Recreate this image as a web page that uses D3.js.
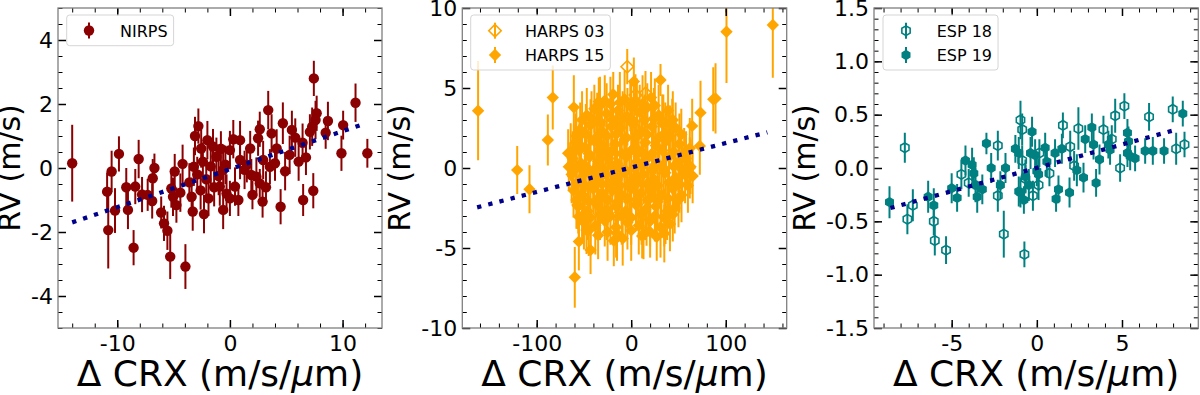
<!DOCTYPE html>
<html>
<head>
<meta charset="utf-8">
<script src="https://cdn.jsdelivr.net/npm/d3@7"></script>
<style>
  body { margin: 0; background: #fff; }
  svg { font-family: "DejaVu Sans", sans-serif; }
</style>
</head>
<body>
<div id="chart"></div>
<script>
// each point: [delta CRX, RV, RV error]

// ---- NIRPS ----
const nirpsData = [
  [-14.0, 0.15, 1.2], [-10.9, -0.74, 0.6], [-10.8, -1.94, 1.2], [-10.5, -0.11, 0.65],
  [-10.2, -1.33, 0.7], [-9.85, 0.44, 0.55], [-9.2, -0.6, 0.6], [-9.05, -1.31, 0.6],
  [-8.55, -2.49, 0.55], [-8.4, -0.58, 0.55], [-8.1, 0.28, 0.6], [-7.8, -0.83, 0.55],
  [-7.3, -0.84, 0.5], [-6.9, -1.03, 0.55], [-6.85, -0.32, 0.6], [-6.7, 0.0, 0.45],
  [-6.1, -1.39, 0.5], [-5.85, -1.73, 0.55], [-5.55, -1.96, 0.6], [-5.3, -2.77, 0.7],
  [-5.2, -0.64, 0.6], [-4.9, -0.11, 0.55], [-5.05, -0.9, 0.6], [-4.75, -1.16, 0.55],
  [-4.4, -0.77, 0.6], [-4.2, 0.13, 0.6], [-3.95, -3.08, 0.7], [-3.3, -1.36, 0.6],
  [-3.2, 0.04, 0.6], [-3.1, 1.0, 0.6], [-2.8, 1.31, 0.55], [-2.55, 0.61, 0.6],
  [-2.3, -1.44, 0.6], [-2.0, 0.87, 0.6], [-1.5, 0.67, 0.55], [-0.6, -1.31, 0.6],
  [-3.6, -0.45, 0.6], [-3.4, -0.9, 0.6], [-2.9, -0.2, 0.55], [-2.6, -0.7, 0.6],
  [-2.4, 0.2, 0.6], [-2.1, -0.35, 0.6], [-1.9, -0.95, 0.55], [-1.7, 0.05, 0.6],
  [-1.4, -0.6, 0.6], [-1.2, 0.35, 0.6], [-1.0, -0.25, 0.6], [-0.8, 0.6, 0.55],
  [-0.4, 0.1, 0.6], [-0.3, -0.8, 0.6],
  [7.45, 2.8, 0.55], [11.15, 2.04, 0.6], [3.4, 1.81, 0.6], [8.7, 1.47, 0.6],
  [10.05, 1.34, 0.45], [7.7, 1.71, 0.55], [7.6, 1.5, 0.6], [7.3, 1.29, 0.6],
  [7.1, 1.13, 0.55], [4.7, 1.4, 0.65], [5.5, 1.19, 0.6], [2.65, 1.21, 0.55],
  [3.7, 1.08, 0.6], [2.5, 0.93, 0.55], [0.3, 0.9, 0.6], [0.9, 0.87, 0.6],
  [6.45, 0.79, 0.6], [6.75, 0.33, 0.55], [8.5, 1.1, 0.5], [9.9, 0.46, 0.55],
  [12.2, 0.46, 0.45], [6.5, -1.0, 0.5], [7.4, -0.71, 0.55], [4.5, -1.21, 0.55],
  [2.9, -1.05, 0.5], [2.0, -0.84, 0.45], [2.65, -0.48, 0.45], [1.9, -0.22, 0.5],
  [0.75, -1.0, 0.5], [0.0, -0.95, 0.55], [5.3, 0.41, 0.6], [4.15, 0.61, 0.6],
  [1.8, 0.61, 0.55], [0.0, 0.56, 0.6], [3.55, 0.04, 0.55], [4.0, 0.15, 0.55],
  [0.9, 0.25, 0.6], [-0.6, -0.06, 0.6], [1.3, -0.06, 0.6], [2.95, 0.25, 0.6],
  [2.35, -0.27, 0.6], [-0.9, -0.58, 0.6], [0.45, -0.58, 0.6], [5.8, 0.95, 0.6],
  [6.1, 0.2, 0.6], [4.9, -0.1, 0.6], [1.5, 0.1, 0.55], [3.2, -0.6, 0.5]
];
const nirpsFitX = [-14.0, 12.1];
const nirpsFitY = [-1.70, 1.40];
const nirpsXTicks = [-10, 0, 10];
const nirpsYTicks = [-4, -2, 0, 2, 4];

// ---- HARPS ----
const harps03Data = [
  [-4.2, 6.33, 1.1], [15.1, 4.67, 1.4], [4.5, 4.56, 1.3], [16.2, -3.46, 1.4],
  [-25, 1.0, 1.6], [10, -2.0, 1.7], [30, 0.0, 1.8], [-15, -3.0, 1.6]
];
const harps15Data = [
  [-162, 3.58, 3.1], [-120.6, -0.13, 1.5], [-107.6, -1.33, 1.5], [-88.2, 1.75, 1.6],
  [-83, 4.4, 2.0], [-60.7, 3.79, 2.0], [-66.7, 0.92, 1.5], [-60.7, 1.13, 1.6],
  [-66, 0.08, 1.5], [-57, -2.31, 1.5], [-55.4, -3.04, 1.6], [-47.3, -3.88, 1.5],
  [-55.4, -4.6, 1.8], [-43, -5.13, 1.5], [-59.7, -6.83, 1.9], [-18.4, -4.54, 1.6],
  [-34.3, 4.15, 1.5], [-36, 2.9, 1.8], [100.8, 8.52, 3.2], [149.8, 8.94, 3.3],
  [89.2, 4.35, 2.2], [86.8, 4.29, 2.0], [73.3, 3.46, 2.0], [64.5, 2.63, 1.7],
  [72.6, 1.38, 1.8], [62.0, 1.23, 1.9], [62.8, 0.08, 1.7], [53.2, -1.69, 1.7],
  [31.0, 5.5, 1.0], [2.8, 5.4, 1.5], [43.4, 2.63, 1.7], [32.8, 2.79, 1.8],
  [36.3, -3.15, 1.6], [11.6, -4.25, 1.4],
  [-28, 4.2, 1.6], [-19, 4.6, 1.4], [-7, 4.3, 1.8], [6, 4.1, 1.5], [21, 4.4, 1.6],
  [-47, 3.3, 1.7], [-39, 3.7, 1.5], [-26, 3.4, 1.9], [-14, 3.6, 1.6], [-4, 3.2, 1.8],
  [9, 3.5, 1.7], [17, 3.8, 1.5], [29, 3.3, 1.9], [39, 3.6, 1.6],
  [-54, 2.4, 1.7], [-43, 2.7, 1.6], [-31, 2.3, 1.8], [-21, 2.6, 1.9], [-11, 2.5, 1.7],
  [1, 2.8, 1.6], [11, 2.3, 1.8], [22, 2.6, 1.7], [36, 2.2, 1.9], [47, 2.5, 1.6],
  [-59, 1.6, 1.8], [-49, 1.3, 1.7], [-39, 1.7, 1.9], [-29, 1.4, 1.6], [-17, 1.5, 1.8],
  [-7, 1.8, 1.7], [4, 1.3, 1.9], [15, 1.6, 1.6], [26, 1.4, 1.8], [37, 1.7, 1.7], [51, 1.5, 1.9],
  [-62, 0.6, 1.7], [-53, 0.3, 1.8], [-44, 0.7, 1.6], [-35, 0.4, 1.9], [-24, 0.6, 1.7],
  [-15, 0.3, 1.8], [-5, 0.7, 1.6], [6, 0.4, 1.9], [17, 0.6, 1.7], [28, 0.3, 1.8],
  [40, 0.7, 1.6], [50, 0.4, 1.9], [58, 0.6, 1.7],
  [-63, -0.4, 1.8], [-54, -0.7, 1.7], [-45, -0.3, 1.9], [-36, -0.6, 1.6], [-27, -0.4, 1.8],
  [-17, -0.7, 1.7], [-7, -0.3, 1.9], [3, -0.6, 1.6], [13, -0.4, 1.8], [24, -0.7, 1.7],
  [36, -0.3, 1.9], [47, -0.6, 1.6], [57, -0.4, 1.8], [65, -0.5, 1.7],
  [-61, -1.4, 1.7], [-51, -1.7, 1.8], [-40, -1.3, 1.6], [-30, -1.6, 1.9], [-20, -1.4, 1.7],
  [-10, -1.7, 1.8], [0, -1.3, 1.6], [10, -1.6, 1.9], [20, -1.4, 1.7], [32, -1.7, 1.8], [44, -1.3, 1.6],
  [-56, -2.4, 1.7], [-46, -2.7, 1.8], [-36, -2.3, 1.6], [-26, -2.6, 1.9], [-16, -2.4, 1.7],
  [-6, -2.7, 1.8], [5, -2.3, 1.6], [15, -2.6, 1.9], [26, -2.4, 1.7], [38, -2.7, 1.8], [46, -2.5, 1.6],
  [-50, -3.4, 1.7], [-38, -3.6, 1.8], [-28, -3.3, 1.6], [-16, -3.7, 1.9], [-4, -3.4, 1.7],
  [8, -3.6, 1.8], [20, -3.3, 1.6], [31, -3.7, 1.9], [41, -3.5, 1.7],
  [-35, -4.2, 1.5], [-9, -4.4, 1.7], [13, -4.1, 1.6], [27, -4.3, 1.5],
  [-12, 0.0, 1.8], [-2, -1.0, 1.9], [8, 1.0, 1.8], [-22, -1.0, 1.7],
  [18, -2.0, 1.8], [-32, 1.0, 1.7], [0, 3.8, 1.7], [-10, -3.0, 1.8],
  [-33, 3.9, 1.8], [-22, 4.0, 1.7], [-12, 4.1, 1.9], [-1, 3.9, 1.6], [12, 4.0, 1.8], [25, 3.9, 1.7],
  [-52, 3.0, 1.8], [-42, 3.1, 1.7], [-33, 2.9, 1.6], [-20, 3.0, 1.9], [-9, 3.1, 1.7],
  [3, 2.9, 1.8], [14, 3.0, 1.6], [24, 3.1, 1.9], [34, 2.9, 1.7], [44, 3.0, 1.8],
  [-58, 2.0, 1.7], [-48, 2.1, 1.9], [-37, 1.9, 1.6], [-26, 2.0, 1.8], [-16, 2.1, 1.7],
  [-5, 1.9, 1.9], [6, 2.0, 1.6], [17, 2.1, 1.8], [29, 1.9, 1.7], [41, 2.0, 1.9], [53, 2.1, 1.6],
  [-64, 1.0, 1.8], [-55, 1.1, 1.7], [-45, 0.9, 1.9], [-34, 1.1, 1.6], [-21, 1.0, 1.8],
  [-10, 0.9, 1.7], [0, 1.1, 1.9], [11, 1.0, 1.6], [22, 0.9, 1.8], [33, 1.1, 1.7], [45, 1.0, 1.9], [56, 0.9, 1.6],
  [-58, 0.0, 1.9], [-48, 0.1, 1.6], [-39, -0.1, 1.8], [-30, 0.0, 1.7], [-20, 0.1, 1.9],
  [-7, -0.1, 1.6], [3, 0.0, 1.8], [12, 0.1, 1.7], [22, -0.1, 1.9], [34, 0.0, 1.6],
  [45, 0.1, 1.8], [54, -0.1, 1.7], [62, 0.0, 1.9],
  [-58, -1.0, 1.6], [-49, -1.1, 1.8], [-40, -0.9, 1.7], [-31, -1.0, 1.9], [-12, -1.1, 1.6],
  [7, -0.9, 1.8], [17, -1.0, 1.7], [28, -1.1, 1.9], [40, -0.9, 1.6], [51, -1.0, 1.8], [60, -1.1, 1.7],
  [-58, -2.0, 1.8], [-45, -2.1, 1.7], [-35, -1.9, 1.9], [-25, -2.0, 1.6], [-14, -2.1, 1.8],
  [-4, -1.9, 1.7], [6, -2.0, 1.9], [28, -2.1, 1.6], [39, -1.9, 1.8], [50, -2.0, 1.7],
  [-52, -3.0, 1.7], [-43, -3.1, 1.9], [-33, -2.9, 1.6], [-22, -3.0, 1.8], [0, -3.1, 1.7],
  [11, -2.9, 1.9], [25, -3.0, 1.6], [35, -3.1, 1.8], [44, -2.9, 1.7],
  [-45, -3.9, 1.6], [-25, -4.0, 1.8], [-15, -4.1, 1.7], [0, -3.9, 1.9], [20, -4.0, 1.6], [35, -4.1, 1.8]
];
const harpsFitX = [-163, 144];
const harpsFitY = [-2.46, 2.23];
const harpsXTicks = [-100, 0, 100];
const harpsYTicks = [-10, -5, 0, 5, 10];

// ---- ESPRESSO ----
const esp18Data = [
  [-7.75, 0.19, 0.14], [-7.6, -0.48, 0.14], [-7.28, -0.35, 0.15], [-6.05, -0.5, 0.13],
  [-5.99, -0.68, 0.14], [-5.33, -0.77, 0.13], [-4.43, -0.06, 0.14], [-4.0, -0.14, 0.13],
  [-2.29, 0.21, 0.14], [-2.29, -0.26, 0.15], [-1.94, -0.62, 0.22], [-0.96, 0.45, 0.18],
  [-0.86, 0.36, 0.15], [-0.86, 0.07, 0.14], [-0.73, -0.81, 0.12], [-0.23, -0.26, 0.14],
  [-0.67, -0.1, 0.13], [1.53, 0.4, 0.12], [2.44, 0.37, 0.2], [3.91, 0.36, 0.13],
  [4.6, 0.49, 0.16], [5.14, 0.58, 0.12], [6.59, 0.48, 0.13], [7.98, 0.55, 0.12],
  [8.18, 0.18, 0.15], [8.67, 0.22, 0.12], [4.89, 0.0, 0.13], [1.96, 0.2, 0.15],
  [2.19, 0.02, 0.14], [4.4, 0.27, 0.13], [0.1, -0.16, 0.14], [0.15, 0.14, 0.13],
  [0.74, -0.05, 0.12]
];
const esp19Data = [
  [-8.65, -0.32, 0.15], [-6.38, -0.27, 0.15], [-6.05, -0.35, 0.16], [-5.0, -0.19, 0.14],
  [-4.68, -0.28, 0.13], [-4.19, 0.07, 0.14], [-3.8, 0.03, 0.16], [-3.7, -0.05, 0.15],
  [-3.6, -0.16, 0.16], [-3.5, -0.27, 0.15], [-3.2, -0.2, 0.14], [-2.96, 0.23, 0.1],
  [-2.68, 0.0, 0.14], [-2.14, -0.16, 0.13], [-1.84, 0.0, 0.14], [-1.26, 0.18, 0.13],
  [-1.06, 0.14, 0.15], [-1.06, -0.22, 0.14], [-0.76, -0.3, 0.13], [-0.28, 0.34, 0.14],
  [-0.37, 0.14, 0.15], [-0.67, -0.08, 0.16], [-0.47, -0.16, 0.15], [-0.96, -0.23, 0.14],
  [-0.1, 0.12, 0.15], [0.0, -0.03, 0.14], [0.49, 0.19, 0.14], [0.59, 0.06, 0.15],
  [1.07, 0.14, 0.13], [1.47, 0.18, 0.14], [1.27, -0.2, 0.13], [1.13, -0.29, 0.12],
  [1.92, -0.23, 0.14], [2.35, -0.02, 0.15], [2.74, -0.09, 0.14], [2.84, 0.27, 0.13],
  [3.23, 0.38, 0.13], [3.33, 0.22, 0.14], [3.48, -0.14, 0.13], [3.68, 0.08, 0.14],
  [4.2, 0.22, 0.13], [4.3, 0.17, 0.14], [5.32, 0.33, 0.13], [5.38, 0.25, 0.14],
  [5.32, 0.14, 0.13], [5.48, 0.11, 0.13], [5.77, 0.09, 0.12], [6.36, 0.16, 0.12],
  [6.81, 0.16, 0.13], [7.47, 0.16, 0.12], [8.57, 0.51, 0.12], [0.1, -0.06, 0.15]
];
const espFitX = [-8.6, 8.2];
const espFitY = [-0.375, 0.36];
const espXTicks = [-5, 0, 5];
const espYTicks = [-1.5, -1.0, -0.5, 0.0, 0.5, 1.0, 1.5];

const fitColor = "#00008b";

const svg = d3.select("#chart")
  .append("svg")
    .attr("width", 1200)
    .attr("height", 395);

// marker shapes as path strings centred on 0,0
function markerPath(shape, s) {
  if (shape == "diamond") {
    return `M0,${-s}L${s},0L0,${s}L${-s},0Z`;
  }
  if (shape == "hexagon") {
    let pts = d3.range(6).map(k => {
      let a = (-90 + 60 * k) * Math.PI / 180;
      return [s * Math.cos(a), s * Math.sin(a)];
    });
    return "M" + pts.map(p => p.join(",")).join("L") + "Z";
  }
  let p = d3.path();
  p.arc(0, 0, s, 0, 2 * Math.PI);
  return p.toString();
}

let fmtInt = d => String(d);
let fmtOne = d => d3.format(".1f")(d).replace("\u2212", "-");

class ScatterPanel {

  constructor(_config) {
    this.config = _config;
    this.initVis();
  }

  initVis() {
    let vis = this;
    let c = vis.config;

    vis.width = c.right - c.left;
    vis.height = c.bottom - c.top;

    vis.g = svg.append("g")
      .attr("transform", "translate(" + c.left + "," + c.top + ")");

    vis.xScale = d3.scaleLinear().domain(c.xDomain).range([0, vis.width]);
    vis.yScale = d3.scaleLinear().domain(c.yDomain).range([vis.height, 0]);

    vis.clipId = "clip-" + c.id;
    vis.g.append("clipPath").attr("id", vis.clipId)
      .append("rect")
        .attr("width", vis.width)
        .attr("height", vis.height);

    vis.renderVis();
  }

  minorTicks(domain, step) {
    let start = Math.ceil(domain[0] / step - 1e-9);
    let end = Math.floor(domain[1] / step + 1e-9);
    return d3.range(start, end + 1).map(k => +(k * step).toFixed(6));
  }

  drawAxis(axisFn, tx, ty, ticks, size, width, fmt, pad) {
    let vis = this;
    let scale = (axisFn == d3.axisBottom || axisFn == d3.axisTop) ? vis.xScale : vis.yScale;
    let axis = axisFn(scale)
      .tickValues(ticks)
      .tickSizeInner(-size)
      .tickSizeOuter(0)
      .tickPadding(pad || 0)
      .tickFormat(fmt || "");
    let g = vis.g.append("g")
      .attr("transform", "translate(" + tx + "," + ty + ")")
      .call(axis);
    g.select(".domain").remove();
    g.attr("font-size", 22).attr("font-family", "DejaVu Sans, sans-serif").attr("color", "#000");
    g.selectAll("line").attr("stroke-width", width);
    return g;
  }

  renderVis() {
    let vis = this;
    let c = vis.config;

    // data: error bars first, then markers
    let plot = vis.g.append("g").attr("clip-path", "url(#" + vis.clipId + ")");
    c.series.forEach(s => {
      let sg = plot.append("g");
      sg.selectAll("line")
        .data(s.data)
        .join("line")
          .attr("x1", d => vis.xScale(d[0]))
          .attr("x2", d => vis.xScale(d[0]))
          .attr("y1", d => vis.yScale(d[1] - d[2]))
          .attr("y2", d => vis.yScale(d[1] + d[2]))
          .attr("stroke", s.color)
          .attr("stroke-width", 2);
      sg.selectAll("path")
        .data(s.data)
        .join("path")
          .attr("transform", d => "translate(" + vis.xScale(d[0]) + "," + vis.yScale(d[1]) + ")")
          .attr("d", markerPath(s.shape, s.size))
          .attr("fill", s.filled ? s.color : "none")
          .attr("stroke", s.color)
          .attr("stroke-width", s.filled ? 0 : 1.6);
    });

    // linear fit, dotted
    let line = d3.line().x(d => vis.xScale(d[0])).y(d => vis.yScale(d[1]));
    plot.append("path")
      .datum(c.fitX.map((x, i) => [x, c.fitY[i]]))
      .attr("d", line)
      .attr("fill", "none")
      .attr("stroke", fitColor)
      .attr("stroke-width", 4.3)
      .attr("stroke-dasharray", "4.3,7.2");

    // ticks on all four sides, pointing in
    let xMinor = vis.minorTicks(c.xDomain, c.xMinor);
    let yMinor = vis.minorTicks(c.yDomain, c.yMinor);
    vis.drawAxis(d3.axisBottom, 0, vis.height, xMinor, 4.5, 1);
    vis.drawAxis(d3.axisTop, 0, 0, xMinor, 4.5, 1);
    vis.drawAxis(d3.axisLeft, 0, 0, yMinor, 4.5, 1);
    vis.drawAxis(d3.axisRight, vis.width, 0, yMinor, 4.5, 1);
    vis.xAxisG = vis.drawAxis(d3.axisBottom, 0, vis.height, c.xTicks, 8, 1.5, c.xFmt, 7);
    vis.drawAxis(d3.axisTop, 0, 0, c.xTicks, 8, 1.5);
    vis.yAxisG = vis.drawAxis(d3.axisLeft, 0, 0, c.yTicks, 8, 1.5, c.yFmt, 5);
    vis.drawAxis(d3.axisRight, vis.width, 0, c.yTicks, 8, 1.5);

    vis.g.append("rect")
      .attr("width", vis.width)
      .attr("height", vis.height)
      .attr("fill", "none")
      .attr("stroke", "#7f7f7f")
      .attr("stroke-width", 1.3);

    // labels
    vis.g.append("text")
      .attr("x", vis.width / 2)
      .attr("y", 386 - c.top)
      .attr("text-anchor", "middle")
      .attr("font-size", 36)
      .attr("fill", "#000")
      .call(t => {
        t.append("tspan").text("\u0394 CRX (m/s/");
        t.append("tspan").attr("font-style", "italic").text("\u03bc");
        t.append("tspan").text("m)");
      });

    let box = vis.yAxisG.node().getBBox();
    vis.g.append("text")
      .attr("transform", "translate(" + (box.x - 11) + "," + (vis.height / 2) + ") rotate(-90)")
      .attr("text-anchor", "middle")
      .attr("font-size", 30)
      .attr("fill", "#000")
      .text("RV (m/s)");

    // legend
    let L = c.legend;
    let lg = vis.g.append("g");
    let boxRect = lg.append("rect")
      .attr("x", L.x)
      .attr("y", L.y)
      .attr("height", L.h)
      .attr("rx", 3)
      .attr("fill", "#fff")
      .attr("fill-opacity", 0.8)
      .attr("stroke", "#d5d5d5")
      .attr("stroke-width", 1);
    let maxW = 0;
    c.series.forEach((s, i) => {
      let y = L.rowY[i];
      lg.append("line")
        .attr("x1", L.markerX).attr("x2", L.markerX)
        .attr("y1", y - 8).attr("y2", y + 8)
        .attr("stroke", s.color)
        .attr("stroke-width", 2);
      lg.append("path")
        .attr("transform", "translate(" + L.markerX + "," + y + ")")
        .attr("d", markerPath(s.shape, s.size))
        .attr("fill", s.filled ? s.color : "none")
        .attr("stroke", s.color)
        .attr("stroke-width", s.filled ? 0 : 1.6);
      let t = lg.append("text")
        .attr("x", L.textX)
        .attr("y", y + 6)
        .attr("font-size", 16)
        .attr("fill", "#000")
        .text(s.label);
      maxW = Math.max(maxW, t.node().getComputedTextLength());
    });
    boxRect.attr("width", L.textX + maxW + 6 - L.x);
  }
}

new ScatterPanel({
  id: "nirps", left: 58, right: 382, top: 8, bottom: 328,
  xDomain: [-15.26, 13.5], yDomain: [-5, 5],
  xTicks: nirpsXTicks, yTicks: nirpsYTicks, xMinor: 2, yMinor: 0.5,
  xFmt: fmtInt, yFmt: fmtInt,
  fitX: nirpsFitX, fitY: nirpsFitY,
  series: [
    {label: "NIRPS", data: nirpsData, color: "#8b0000", shape: "circle", size: 5.2, filled: true}
  ],
  legend: {x: 8.7, y: 7, h: 30.7, rowY: [22.5], markerX: 31, textX: 62}
});

new ScatterPanel({
  id: "harps", left: 462.3, right: 786.7, top: 8, bottom: 328,
  xDomain: [-178.7, 164.5], yDomain: [-10, 10],
  xTicks: harpsXTicks, yTicks: harpsYTicks, xMinor: 20, yMinor: 1,
  xFmt: fmtInt, yFmt: fmtInt,
  fitX: harpsFitX, fitY: harpsFitY,
  series: [
    {label: "HARPS 03", data: harps03Data, color: "#ffa500", shape: "diamond", size: 6.2, filled: false},
    {label: "HARPS 15", data: harps15Data, color: "#ffa500", shape: "diamond", size: 6.2, filled: true}
  ],
  legend: {x: 8.4, y: 7, h: 55, rowY: [22.7, 47], markerX: 32.7, textX: 62.7}
});

new ScatterPanel({
  id: "esp", left: 874, right: 1198.3, top: 8, bottom: 328,
  xDomain: [-9.56, 9.48], yDomain: [-1.5, 1.5],
  xTicks: espXTicks, yTicks: espYTicks, xMinor: 1, yMinor: 0.1,
  xFmt: fmtInt, yFmt: fmtOne,
  fitX: espFitX, fitY: espFitY,
  series: [
    {label: "ESP 18", data: esp18Data, color: "#008080", shape: "hexagon", size: 4.8, filled: false},
    {label: "ESP 19", data: esp19Data, color: "#008080", shape: "hexagon", size: 5.2, filled: true}
  ],
  legend: {x: 9, y: 7, h: 55, rowY: [22.7, 47], markerX: 32, textX: 62.7}
});
</script>
</body>
</html>
